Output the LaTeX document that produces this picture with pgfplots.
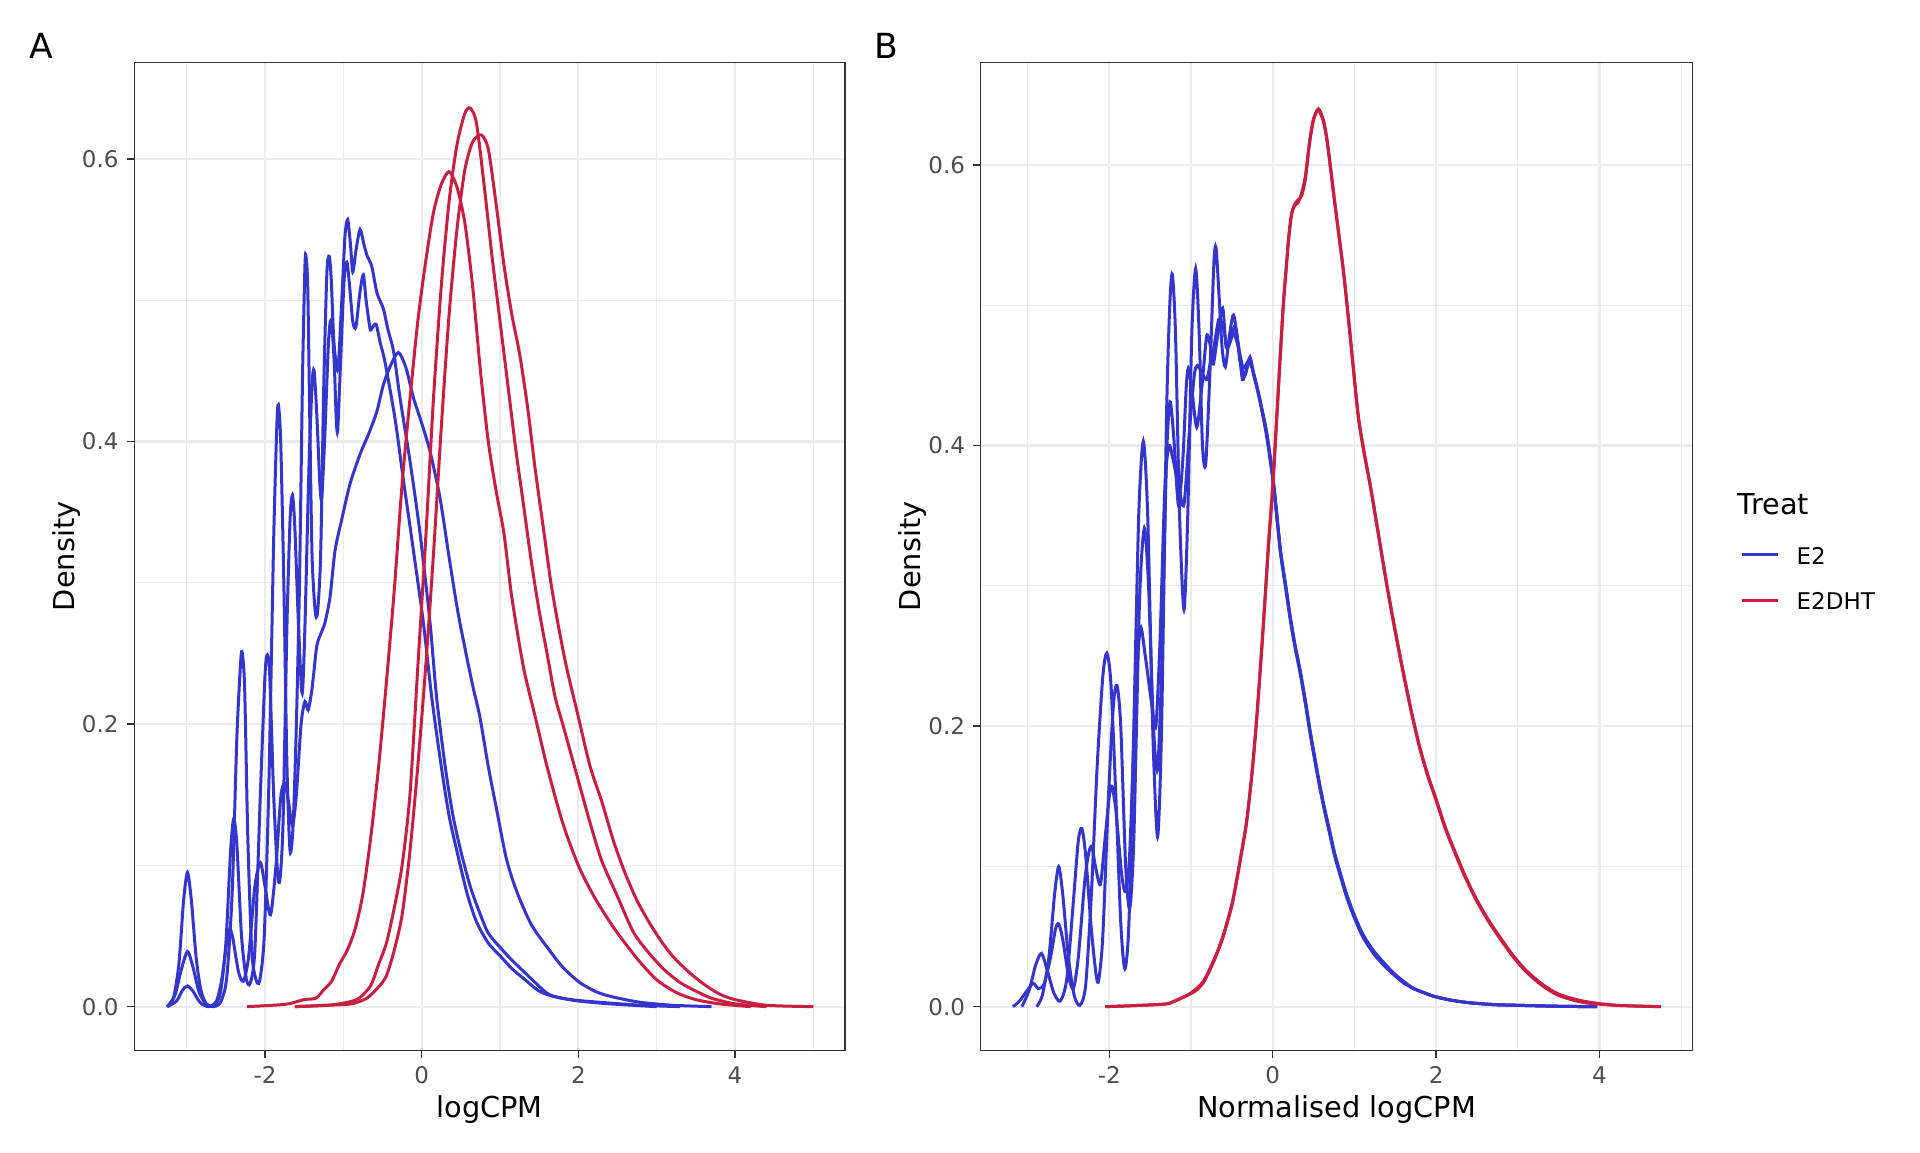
\documentclass[border=0pt]{standalone}
\usepackage{fontspec}
\setmainfont{DejaVu Sans}
\usepackage{pgfplots}
\pgfplotsset{compat=1.18}
\definecolor{eblue}{RGB}{52,52,206}
\definecolor{ered}{RGB}{202,30,64}
\definecolor{gridc}{RGB}{235,235,235}
\definecolor{bord}{RGB}{51,51,51}
\definecolor{ticklab}{RGB}{77,77,77}
\pgfplotsset{
  panel/.style={
    scale only axis, anchor=south west, height=494.15pt,
    axis line style={bord, line width=0.6pt},
    xtick pos=bottom, ytick pos=left,
    tick align=outside, major tick length=3.85pt, minor tick length=0pt,
    major tick style={bord, line width=0.7pt},
    xtick={-2,0,2,4}, xticklabels={-2,0,2,4},
    minor xtick={-3,-1,1,3,5},
    ytick={0,0.2,0.4,0.6}, yticklabels={0.0,0.2,0.4,0.6},
    minor ytick={0.1,0.3,0.5},
    grid=both,
    major grid style={gridc, line width=1.1pt},
    minor grid style={gridc, line width=0.55pt},
    xticklabel style={font=\fontsize{11.5}{13}\selectfont, text=ticklab, anchor=north, inner sep=0pt, yshift=-3.85pt},
    yticklabel style={font=\fontsize{11.5}{13}\selectfont, text=ticklab, anchor=east, inner sep=0pt, xshift=-3.85pt},
    every axis plot/.append style={line width=1.5pt, smooth, tension=0.45},
  },
  e2/.style={eblue},
  dht/.style={ered},
}
\begin{document}
\begin{tikzpicture}
\path[use as bounding box] (0,0) rectangle (960pt,576pt);
% ---------------- Panel A ----------------
\begin{axis}[panel, at={(67.15pt,50.7pt)}, width=355.3pt,
  xmin=-3.669, xmax=5.403, ymin=-0.0311, ymax=0.6684]
% E2 sample P
\addplot[e2] coordinates {(-3.25,0) (-3.17,0.006) (-3.10,0.03) (-3.04,0.075) (-2.99,0.095) (-2.94,0.075) (-2.88,0.035) (-2.82,0.012) (-2.75,0.002) (-2.66,0.0) (-2.57,0.003) (-2.49,0.02) (-2.42,0.08) (-2.36,0.19) (-2.31,0.245) (-2.29,0.25) (-2.26,0.225) (-2.22,0.12) (-2.17,0.04) (-2.12,0.02) (-2.07,0.018) (-2.01,0.05) (-1.95,0.16) (-1.89,0.33) (-1.85,0.41) (-1.83,0.426) (-1.80,0.40) (-1.76,0.3) (-1.72,0.17) (-1.68,0.11) (-1.64,0.13) (-1.60,0.2) (-1.56,0.3) (-1.52,0.45) (-1.49,0.525) (-1.477,0.531) (-1.455,0.51) (-1.43,0.42) (-1.40,0.32) (-1.36,0.28) (-1.33,0.279) (-1.29,0.32) (-1.25,0.44) (-1.21,0.52) (-1.18,0.531) (-1.155,0.515) (-1.12,0.47) (-1.07,0.451) (-1.02,0.5) (-0.98,0.545) (-0.945,0.557) (-0.91,0.54) (-0.88,0.52) (-0.84,0.535) (-0.787,0.55) (-0.74,0.54) (-0.694,0.531) (-0.638,0.524) (-0.57,0.505) (-0.49,0.494) (-0.43,0.479) (-0.36,0.464) (-0.277,0.431) (-0.149,0.386) (-0.021,0.335) (0.106,0.272) (0.19,0.219) (0.3,0.17) (0.4,0.135) (0.5,0.11) (0.62,0.085) (0.75,0.065) (0.85,0.052) (1.0,0.042) (1.15,0.033) (1.3,0.025) (1.45,0.017) (1.63,0.0085) (1.9,0.005) (2.3,0.003) (2.8,0.001) (3.3,0)};
% E2 sample Q
\addplot[e2] coordinates {(-3.25,0) (-3.15,0.008) (-3.07,0.026) (-2.99,0.039) (-2.92,0.028) (-2.84,0.01) (-2.74,0.001) (-2.65,0.001) (-2.57,0.01) (-2.5,0.045) (-2.44,0.11) (-2.40,0.133) (-2.36,0.115) (-2.30,0.05) (-2.24,0.02) (-2.19,0.0165) (-2.13,0.04) (-2.06,0.15) (-2.0,0.235) (-1.97,0.249) (-1.94,0.235) (-1.89,0.15) (-1.84,0.095) (-1.81,0.09) (-1.77,0.13) (-1.72,0.27) (-1.68,0.345) (-1.65,0.362) (-1.62,0.34) (-1.58,0.28) (-1.54,0.23) (-1.52,0.224) (-1.49,0.27) (-1.44,0.38) (-1.40,0.44) (-1.374,0.45) (-1.34,0.42) (-1.30,0.37) (-1.277,0.36) (-1.24,0.4) (-1.19,0.47) (-1.157,0.486) (-1.12,0.46) (-1.09,0.415) (-1.072,0.408) (-1.04,0.45) (-0.99,0.515) (-0.955,0.527) (-0.92,0.51) (-0.88,0.485) (-0.84,0.481) (-0.79,0.505) (-0.745,0.518) (-0.71,0.5) (-0.66,0.48) (-0.638,0.48) (-0.583,0.483) (-0.53,0.47) (-0.468,0.456) (-0.34,0.416) (-0.234,0.373) (-0.106,0.323) (0.021,0.272) (0.128,0.219) (0.25,0.17) (0.35,0.135) (0.45,0.11) (0.58,0.08) (0.7,0.06) (0.85,0.045) (1.0,0.036) (1.15,0.027) (1.3,0.02) (1.5,0.011) (1.7,0.007) (2.0,0.004) (2.4,0.002) (3.0,0)};
% E2 sample R
\addplot[e2] coordinates {(-3.25,0) (-3.13,0.004) (-3.05,0.012) (-2.99,0.0146) (-2.92,0.011) (-2.83,0.003) (-2.72,0.0) (-2.62,0.004) (-2.55,0.02) (-2.49,0.045) (-2.45,0.055) (-2.41,0.048) (-2.34,0.025) (-2.277,0.018) (-2.21,0.035) (-2.13,0.085) (-2.06,0.102) (-2.0,0.085) (-1.93,0.065) (-1.86,0.1) (-1.80,0.148) (-1.75,0.158) (-1.70,0.145) (-1.65,0.128) (-1.60,0.15) (-1.54,0.2) (-1.49,0.216) (-1.45,0.21) (-1.40,0.225) (-1.34,0.255) (-1.28,0.265) (-1.234,0.272) (-1.17,0.29) (-1.106,0.323) (-1.02,0.345) (-0.915,0.37) (-0.787,0.391) (-0.68,0.405) (-0.574,0.421) (-0.49,0.44) (-0.404,0.453) (-0.298,0.463) (-0.2,0.452) (-0.106,0.431) (0.0,0.413) (0.106,0.393) (0.234,0.36) (0.35,0.318) (0.46,0.28) (0.573,0.248) (0.66,0.225) (0.743,0.205) (0.85,0.17) (0.955,0.14) (1.08,0.105) (1.21,0.082) (1.4,0.058) (1.63,0.04) (1.8,0.028) (2.02,0.017) (2.25,0.01) (2.48,0.0064) (2.8,0.003) (3.2,0.001) (3.7,0)};
% E2DHT sample S
\addplot[dht] coordinates {(-2.23,0) (-1.9,0.001) (-1.7,0.002) (-1.5,0.005) (-1.35,0.006) (-1.25,0.012) (-1.15,0.018) (-1.05,0.03) (-0.95,0.04) (-0.85,0.055) (-0.75,0.08) (-0.65,0.12) (-0.55,0.17) (-0.45,0.23) (-0.35,0.295) (-0.25,0.37) (-0.15,0.43) (-0.05,0.485) (0.05,0.527) (0.15,0.562) (0.25,0.582) (0.35,0.591) (0.45,0.58) (0.55,0.555) (0.65,0.51) (0.75,0.45) (0.85,0.4) (0.95,0.365) (1.05,0.335) (1.15,0.29) (1.3,0.24) (1.45,0.205) (1.6,0.17) (1.8,0.13) (2.0,0.1) (2.2,0.078) (2.45,0.056) (2.75,0.034) (3.0,0.019) (3.25,0.01) (3.5,0.005) (3.8,0.002) (4.2,0)};
% E2DHT sample T
\addplot[dht] coordinates {(-1.62,0) (-1.2,0.001) (-0.95,0.003) (-0.8,0.006) (-0.65,0.015) (-0.55,0.03) (-0.45,0.045) (-0.35,0.07) (-0.25,0.1) (-0.15,0.15) (-0.05,0.24) (0.05,0.33) (0.15,0.43) (0.25,0.51) (0.35,0.57) (0.45,0.61) (0.55,0.632) (0.62,0.636) (0.7,0.625) (0.8,0.58) (0.9,0.53) (1.0,0.485) (1.1,0.44) (1.2,0.395) (1.3,0.355) (1.4,0.315) (1.5,0.28) (1.6,0.25) (1.7,0.22) (1.8,0.2) (1.9,0.18) (2.0,0.16) (2.15,0.13) (2.3,0.103) (2.5,0.078) (2.7,0.053) (2.9,0.038) (3.1,0.026) (3.3,0.017) (3.5,0.011) (3.7,0.006) (4.0,0.002) (4.4,0)};
% E2DHT sample U
\addplot[dht] coordinates {(-1.62,0) (-1.2,0.001) (-0.9,0.002) (-0.7,0.006) (-0.55,0.014) (-0.45,0.022) (-0.35,0.04) (-0.25,0.065) (-0.15,0.11) (-0.05,0.17) (0.05,0.24) (0.15,0.32) (0.25,0.41) (0.35,0.49) (0.45,0.55) (0.55,0.592) (0.65,0.612) (0.76,0.617) (0.85,0.607) (0.95,0.568) (1.05,0.525) (1.15,0.49) (1.25,0.462) (1.35,0.425) (1.45,0.38) (1.55,0.34) (1.65,0.3) (1.75,0.268) (1.85,0.24) (2.0,0.205) (2.15,0.17) (2.3,0.145) (2.45,0.117) (2.6,0.094) (2.75,0.075) (2.9,0.06) (3.05,0.047) (3.2,0.036) (3.4,0.025) (3.6,0.016) (3.8,0.009) (4.0,0.005) (4.4,0.001) (5.0,0)};
\end{axis}
% ---------------- Panel B ----------------
\begin{axis}[panel, at={(490.4pt,50.7pt)}, width=355.75pt,
  xmin=-3.573, xmax=5.136, ymin=-0.0313, ymax=0.6731]
% E2 sample X
\addplot[e2] coordinates {(-2.89,0) (-2.82,0.008) (-2.74,0.035) (-2.67,0.08) (-2.62,0.0998) (-2.57,0.08) (-2.50,0.035) (-2.43,0.008) (-2.36,0.001) (-2.29,0.015) (-2.22,0.08) (-2.15,0.17) (-2.08,0.235) (-2.03,0.252) (-1.98,0.23) (-1.92,0.15) (-1.86,0.06) (-1.81,0.027) (-1.76,0.06) (-1.70,0.2) (-1.64,0.35) (-1.584,0.403) (-1.53,0.35) (-1.47,0.2) (-1.41,0.121) (-1.36,0.2) (-1.30,0.42) (-1.26,0.5) (-1.229,0.522) (-1.19,0.48) (-1.14,0.35) (-1.086,0.283) (-1.04,0.35) (-0.99,0.48) (-0.943,0.526) (-0.90,0.48) (-0.86,0.4) (-0.82,0.387) (-0.77,0.45) (-0.72,0.53) (-0.694,0.541) (-0.66,0.51) (-0.62,0.47) (-0.58,0.456) (-0.53,0.478) (-0.48,0.493) (-0.42,0.472) (-0.37,0.447) (-0.32,0.455) (-0.278,0.463) (-0.24,0.452) (-0.196,0.442) (-0.15,0.43) (-0.073,0.408) (0.008,0.374) (0.09,0.327) (0.131,0.31) (0.17,0.295) (0.212,0.278) (0.27,0.258) (0.335,0.239) (0.4,0.217) (0.457,0.196) (0.52,0.175) (0.58,0.156) (0.64,0.139) (0.702,0.123) (0.76,0.108) (0.824,0.095) (0.9,0.08) (0.988,0.066) (1.1,0.051) (1.233,0.039) (1.35,0.031) (1.478,0.024) (1.6,0.018) (1.722,0.013) (1.85,0.01) (1.967,0.0075) (2.15,0.005) (2.376,0.003) (2.7,0.0015) (2.988,0.001) (3.5,0.0003) (3.97,0)};
% E2 sample Y
\addplot[e2] coordinates {(-3.07,0) (-2.98,0.012) (-2.9,0.03) (-2.83,0.038) (-2.76,0.026) (-2.68,0.01) (-2.60,0.004) (-2.52,0.02) (-2.44,0.075) (-2.38,0.118) (-2.336,0.127) (-2.29,0.108) (-2.22,0.055) (-2.16,0.022) (-2.13,0.019) (-2.08,0.05) (-2.01,0.15) (-1.95,0.215) (-1.906,0.229) (-1.86,0.2) (-1.80,0.1) (-1.75,0.07) (-1.70,0.12) (-1.63,0.29) (-1.571,0.341) (-1.52,0.3) (-1.46,0.2) (-1.41,0.169) (-1.36,0.24) (-1.30,0.39) (-1.257,0.431) (-1.21,0.405) (-1.155,0.358) (-1.10,0.39) (-1.06,0.44) (-1.033,0.455) (-0.99,0.44) (-0.93,0.413) (-0.87,0.44) (-0.808,0.478) (-0.76,0.47) (-0.727,0.458) (-0.67,0.48) (-0.612,0.498) (-0.57,0.47) (-0.52,0.475) (-0.46,0.485) (-0.40,0.46) (-0.34,0.45) (-0.28,0.462) (-0.23,0.45) (-0.196,0.442) (-0.15,0.43) (-0.073,0.406) (0.008,0.372) (0.09,0.326) (0.131,0.309) (0.17,0.294) (0.212,0.277) (0.27,0.257) (0.335,0.238) (0.4,0.216) (0.457,0.195) (0.52,0.174) (0.58,0.155) (0.64,0.138) (0.702,0.122) (0.76,0.107) (0.824,0.094) (0.9,0.079) (0.988,0.065) (1.1,0.05) (1.233,0.038) (1.35,0.03) (1.478,0.023) (1.6,0.017) (1.722,0.013) (1.85,0.01) (1.967,0.0075) (2.15,0.005) (2.376,0.003) (2.7,0.0015) (2.988,0.001) (3.5,0.0003) (3.97,0)};
% E2 sample Z
\addplot[e2] coordinates {(-3.18,0) (-3.1,0.004) (-3.0,0.012) (-2.93,0.0166) (-2.87,0.013) (-2.8,0.016) (-2.72,0.035) (-2.66,0.055) (-2.62,0.059) (-2.57,0.048) (-2.5,0.022) (-2.44,0.013) (-2.38,0.035) (-2.3,0.09) (-2.25,0.11) (-2.213,0.114) (-2.17,0.1) (-2.11,0.087) (-2.06,0.115) (-2.0,0.15) (-1.967,0.157) (-1.92,0.14) (-1.85,0.095) (-1.80,0.082) (-1.75,0.11) (-1.68,0.22) (-1.62,0.27) (-1.56,0.25) (-1.48,0.215) (-1.43,0.2) (-1.38,0.26) (-1.32,0.37) (-1.27,0.40) (-1.22,0.39) (-1.15,0.37) (-1.086,0.358) (-1.02,0.41) (-0.96,0.45) (-0.922,0.457) (-0.87,0.452) (-0.808,0.447) (-0.76,0.46) (-0.72,0.47) (-0.66,0.49) (-0.61,0.485) (-0.55,0.47) (-0.48,0.48) (-0.42,0.47) (-0.36,0.455) (-0.3,0.46) (-0.25,0.455) (-0.196,0.443) (-0.15,0.431) (-0.073,0.409) (0.008,0.375) (0.09,0.328) (0.131,0.311) (0.17,0.296) (0.212,0.279) (0.27,0.259) (0.335,0.24) (0.4,0.218) (0.457,0.197) (0.52,0.176) (0.58,0.157) (0.64,0.14) (0.702,0.124) (0.76,0.109) (0.824,0.096) (0.9,0.081) (0.988,0.067) (1.1,0.052) (1.233,0.04) (1.35,0.032) (1.478,0.024) (1.6,0.018) (1.722,0.013) (1.85,0.01) (1.967,0.0075) (2.15,0.005) (2.376,0.003) (2.7,0.0015) (2.988,0.001) (3.5,0.0003) (3.97,0)};
% E2DHT samples (nearly identical after normalisation)
\addplot[dht] coordinates {(-2.05,0) (-1.6,0.001) (-1.3,0.002) (-1.2,0.004) (-1.05,0.008) (-0.95,0.011) (-0.85,0.017) (-0.77,0.026) (-0.68,0.038) (-0.6,0.051) (-0.5,0.072) (-0.44,0.09) (-0.38,0.11) (-0.318,0.132) (-0.25,0.168) (-0.196,0.205) (-0.14,0.25) (-0.094,0.29) (-0.05,0.33) (0,0.37) (0.05,0.42) (0.09,0.461) (0.13,0.5) (0.171,0.53) (0.2,0.55) (0.233,0.565) (0.27,0.572) (0.31,0.575) (0.355,0.578) (0.40,0.59) (0.45,0.615) (0.5,0.632) (0.56,0.64) (0.62,0.632) (0.66,0.62) (0.70,0.602) (0.75,0.578) (0.8,0.555) (0.865,0.525) (0.927,0.491) (0.988,0.455) (1.05,0.42) (1.12,0.395) (1.2,0.37) (1.3,0.335) (1.4,0.3) (1.5,0.268) (1.6,0.238) (1.7,0.21) (1.8,0.185) (1.9,0.165) (2.0,0.148) (2.1,0.13) (2.2,0.115) (2.35,0.094) (2.5,0.076) (2.65,0.061) (2.8,0.048) (2.95,0.036) (3.1,0.026) (3.3,0.016) (3.5,0.009) (3.8,0.004) (4.2,0.001) (4.75,0)};
\addplot[dht] coordinates {(-2.05,0) (-1.6,0.001) (-1.3,0.002) (-1.2,0.004) (-1.05,0.008) (-0.95,0.012) (-0.85,0.018) (-0.77,0.027) (-0.68,0.039) (-0.6,0.052) (-0.5,0.073) (-0.44,0.091) (-0.38,0.111) (-0.318,0.133) (-0.25,0.169) (-0.196,0.206) (-0.14,0.251) (-0.094,0.291) (-0.05,0.331) (0,0.371) (0.05,0.421) (0.09,0.462) (0.13,0.501) (0.171,0.531) (0.2,0.551) (0.233,0.566) (0.27,0.571) (0.31,0.573) (0.355,0.58) (0.40,0.592) (0.45,0.616) (0.5,0.633) (0.56,0.639) (0.62,0.631) (0.66,0.619) (0.70,0.601) (0.75,0.577) (0.8,0.554) (0.865,0.524) (0.927,0.49) (0.988,0.454) (1.05,0.419) (1.12,0.394) (1.2,0.369) (1.3,0.334) (1.4,0.299) (1.5,0.267) (1.6,0.237) (1.7,0.209) (1.8,0.184) (1.9,0.164) (2.0,0.147) (2.1,0.129) (2.2,0.114) (2.35,0.093) (2.5,0.075) (2.65,0.06) (2.8,0.047) (2.95,0.035) (3.1,0.025) (3.3,0.015) (3.5,0.008) (3.8,0.003) (4.2,0.001) (4.75,0)};
\end{axis}
% ---------------- Texts ----------------
\node[font=\fontsize{14.4}{17}\selectfont, anchor=base, inner sep=0pt] at (244.8pt,17.5pt) {logCPM};
\node[font=\fontsize{14.4}{17}\selectfont, anchor=base, inner sep=0pt] at (668.3pt,17.5pt) {Normalised logCPM};
\node[font=\fontsize{14.4}{17}\selectfont, anchor=base, inner sep=0pt, rotate=90] at (37.3pt,297.8pt) {Density};
\node[font=\fontsize{14.4}{17}\selectfont, anchor=base, inner sep=0pt, rotate=90] at (460.4pt,297.8pt) {Density};
\node[font=\fontsize{17.3}{20}\selectfont, anchor=base west, inner sep=0pt] at (14.6pt,546.9pt) {A};
\node[font=\fontsize{17.3}{20}\selectfont, anchor=base west, inner sep=0pt] at (436.8pt,546.9pt) {B};
% legend
\node[font=\fontsize{14.4}{17}\selectfont, anchor=base west, inner sep=0pt] at (868.7pt,318.5pt) {Treat};
\draw[eblue, line width=1.5pt] (870.9pt,298.5pt) -- (888.9pt,298.5pt);
\draw[ered, line width=1.5pt] (870.9pt,275.5pt) -- (888.9pt,275.5pt);
\node[font=\fontsize{11.5}{13}\selectfont, anchor=base west, inner sep=0pt] at (898.1pt,293.9pt) {E2};
\node[font=\fontsize{11.5}{13}\selectfont, anchor=base west, inner sep=0pt] at (898.1pt,271pt) {E2DHT};
\end{tikzpicture}
\end{document}
